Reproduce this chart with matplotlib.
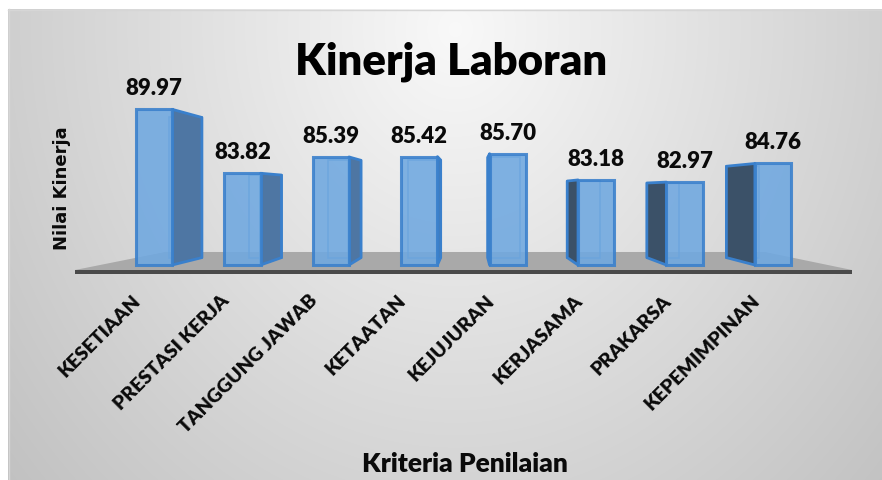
import numpy as np
import matplotlib
matplotlib.use("Agg")
import matplotlib.pyplot as plt
from matplotlib.patches import Polygon, Rectangle
from matplotlib.transforms import ScaledTranslation

# ---------------- data ----------------
categories = ["KESETIAAN", "PRESTASI KERJA", "TANGGUNG JAWAB", "KETAATAN",
              "KEJUJURAN", "KERJASAMA", "PRAKARSA", "KEPEMIMPINAN"]
values = [89.97, 83.82, 85.39, 85.42, 85.70, 83.18, 82.97, 84.76]
title = "Kinerja Laboran"
xlabel = "Kriteria Penilaian"
ylabel = "Nilai Kinerja"
y_base = 75.0

# ---------------- style ----------------
W, H, DPI = 882, 481, 100
FONT = "Lato"
FW = 800
front_col = "#6fa8e0"
edge_col = "#3a80cc"
side_right_col = "#4e76a3"
side_left_col = "#3b5168"
floor_col = "#a9a9a9"
floor_edge_col = "#4a4a4a"

fig = plt.figure(figsize=(W / DPI, H / DPI), dpi=DPI)
fig.patch.set_facecolor("white")

# background gradient (chart area)
bg = fig.add_axes([0, 0, 1, 1])
bg.set_xlim(0, W)
bg.set_ylim(H, 0)
bg.axis("off")
yy, xx = np.mgrid[10:H, 8:W]
d = np.sqrt(((xx - 455) / 560.0) ** 2 + ((yy - 30) / 650.0) ** 2)
c = 0.975 - 0.205 * np.clip(d, 0, 1.1)
img = np.dstack([c, c, c])
bg.imshow(img, extent=(8, W, H, 10), aspect="auto", interpolation="bilinear", zorder=0)
bg.plot([8, W], [10.5, 10.5], color="#d6d6d6", lw=1, zorder=1)
bg.plot([8.5, 8.5], [10, H], color="#d6d6d6", lw=1, zorder=1)

# main axes, placed in pixel box
L, R, T, B = 60, 870, 60, 280
ax = fig.add_axes([L / W, 1 - B / H, (R - L) / W, (B - T) / H])
ax.patch.set_alpha(0)
px_per_cat = 88.43
px_per_val = 10.4
x0_px, y0_px = 154, 266
ax.set_xlim((L - x0_px) / px_per_cat, (R - x0_px) / px_per_cat)
ax.set_ylim(y_base - (B - y0_px) / px_per_val, y_base + (y0_px - T) / px_per_val)
for s in ax.spines.values():
    s.set_visible(False)
ax.set_yticks([])
ax.set_xticks([])

n = len(values)
x = np.arange(n)
bw = 0.41
# vanishing point (data coords) & depths
vp = np.array([(470 - x0_px) / px_per_cat, y_base + (y0_px - 192) / px_per_val])
t_bar = 0.10
t_floor = 0.228


def back(p, t):
    p = np.asarray(p, dtype=float)
    return p + t * (vp - p)


# floor
f_front_y = y_base - 5 / px_per_val
f_l, f_r = -0.893, (n - 1) + 0.893
fl, fr = np.array([f_l, f_front_y]), np.array([f_r, f_front_y])
floor = Polygon([fl, fr, back(fr, t_floor), back(fl, t_floor)], closed=True,
                facecolor=floor_col, edgecolor="none", zorder=2)
ax.add_patch(floor)
ax.add_patch(Rectangle((f_l, f_front_y - 4 / px_per_val), f_r - f_l, 4 / px_per_val,
                       facecolor=floor_edge_col, edgecolor="none", zorder=2))

# bars
for i, v in enumerate(values):
    xl, xr = x[i] - bw / 2, x[i] + bw / 2
    bl, br_ = back((xl, y_base), t_bar), back((xr, y_base), t_bar)
    tl, tr = back((xl, v), t_bar), back((xr, v), t_bar)
    ax.add_patch(Polygon([bl, br_, tr, tl], closed=True, facecolor="none",
                         edgecolor=edge_col, lw=1.2, alpha=0.7, zorder=3))
    if xr < vp[0]:
        pts = [(xr, y_base), (xr, v), back((xr, v), t_bar), back((xr, y_base), t_bar)]
        sc = side_right_col
    else:
        pts = [(xl, y_base), (xl, v), back((xl, v), t_bar), back((xl, y_base), t_bar)]
        sc = side_left_col
    ax.add_patch(Polygon(pts, closed=True, facecolor=sc, edgecolor=edge_col,
                         lw=2, joinstyle="round", zorder=4))

ax.bar(x, np.array(values) - y_base, bottom=y_base, width=bw, color=front_col,
       edgecolor=edge_col, linewidth=2.2, alpha=0.88, zorder=5)

# value labels
for i, v in enumerate(values):
    ax.annotate(f"{v:.2f}", (x[i], v), xytext=(0, 15.5), textcoords="offset points",
                ha="center", va="center", fontsize=16, fontweight=FW,
                family=FONT, color="#0a0a0a", zorder=6)

# category labels (rotated, under the floor)
lab_tr = ax.get_xaxis_transform() + ScaledTranslation(-22 / DPI, -12 / DPI, fig.dpi_scale_trans)
for i, cat in enumerate(categories):
    ax.text(x[i], 0, cat, transform=lab_tr, rotation=45, rotation_mode="anchor",
            ha="right", va="top", fontsize=14, fontweight=FW, family=FONT,
            color="#0a0a0a")

# titles
fig.text(451 / W, 1 - 62 / H, title, ha="center", va="center", fontsize=31.5,
         fontweight=FW, family=FONT, color="#000000")
fig.text(465 / W, 1 - 464 / H, xlabel, ha="center", va="center", fontsize=19,
         fontweight=FW, family=FONT, color="#0a0a0a")
fig.text(62 / W, 1 - 188 / H, ylabel, ha="center", va="center", rotation=90,
         fontsize=13, fontweight="bold", family="DejaVu Sans", color="#0a0a0a")

fig.savefig("out.png", dpi=DPI)
